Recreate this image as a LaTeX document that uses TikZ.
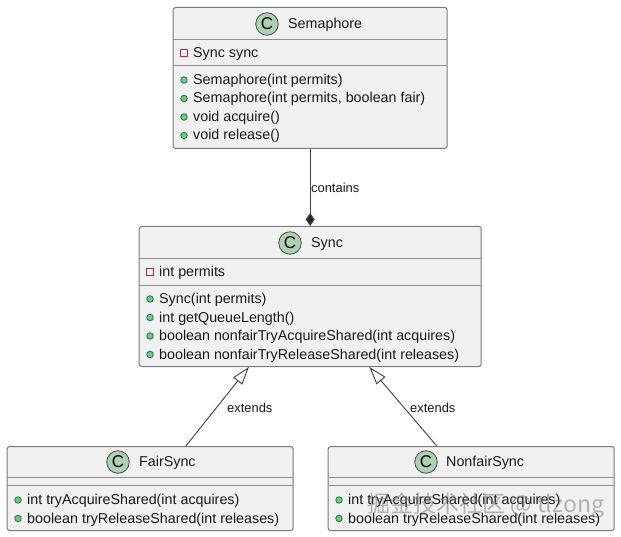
\documentclass[tikz,border=0pt]{standalone}
\usepackage{fontspec}
\setmainfont{Liberation Sans}
\newfontfamily\cjkwm{Noto Sans CJK SC}
\usetikzlibrary{arrows.meta,calc}
\definecolor{boxfill}{HTML}{F1F1F1}
\definecolor{boxline}{HTML}{7A7A7A}
\definecolor{circfill}{HTML}{ADD1B2}
\definecolor{pubfill}{HTML}{84BE84}
\definecolor{publine}{HTML}{038048}
\definecolor{privline}{HTML}{C82930}
\tikzset{
  x=1pt,y=-1pt,
  umlbox/.style={draw=boxline,fill=boxfill,line width=1pt,rounded corners=2.5pt,inner sep=0pt,anchor=north west},
  divline/.style={draw=boxline!85!white,line width=0.8pt},
  title/.style={font=\fontsize{14.3}{16}\selectfont,text=black!90,inner sep=0,anchor=west},
  member/.style={font=\fontsize{14.3}{16}\selectfont,text=black!90,inner sep=0,anchor=west},
  lbl/.style={font=\fontsize{12.9}{15}\selectfont,text=black!90,inner sep=0,anchor=west},
  cicon/.style={circle,draw=black!70,fill=circfill,line width=0.8pt,minimum size=22.5pt,inner sep=0pt,font=\fontsize{17}{17}\selectfont\rmfamily},
  pub/.style={circle,draw=publine,fill=pubfill,line width=0.8pt,minimum size=6.5pt,inner sep=0pt},
  priv/.style={rectangle,draw=privline,fill=boxfill,line width=0.8pt,minimum size=6.5pt,inner sep=0pt},
  link/.style={draw=black!75,line width=0.9pt},
  hollow/.style={link,-{Triangle[open,length=18pt,width=11.5pt,line width=0.9pt,fill=white]}},
  diam/.style={link,line width=1.2pt,-{Diamond[length=13pt,width=9pt,fill=black!85]}}
}
\begin{document}
\begin{tikzpicture}
\useasboundingbox (0,0) rectangle (621,537);
\fill[white] (0,0) rectangle (621,537);

% Semaphore
\node[umlbox,minimum width=274pt,minimum height=141pt] (sem) at (172.7,7) {};
\draw[divline] (172.7,39) -- (446.7,39);
\draw[divline] (172.7,65.5) -- (446.7,65.5);
\node[cicon] (semc) at (267,24) {C};
\node[title] (semt) at (288,25) {Semaphore};
\node[priv] (s0) at (184,53) {}; \node[member] (s0t) at (193,54) {Sync sync};
\node[pub] (s1) at (184,80) {}; \node[member] (s1t) at (193,80.5) {Semaphore(int permits)};
\node[pub] (s2) at (184,98.5) {}; \node[member] (s2t) at (193,99) {Semaphore(int permits, boolean fair)};
\node[pub] (s3) at (184,117) {}; \node[member] (s3t) at (193,117.5) {void acquire()};
\node[pub] (s4) at (184,135.5) {}; \node[member] (s4t) at (193,136) {void release()};

% Sync
\node[umlbox,minimum width=342pt,minimum height=140pt] (syn) at (138.7,226) {};
\draw[divline] (138.7,258) -- (480.7,258);
\draw[divline] (138.7,285) -- (480.7,285);
\node[cicon] (sync) at (290,243) {C};
\node[title] (synt) at (311,244) {Sync};
\node[priv] (y0) at (150,272) {}; \node[member] (y0t) at (159,273) {int permits};
\node[pub] (y1) at (150,299) {}; \node[member] (y1t) at (159,300) {Sync(int permits)};
\node[pub] (y2) at (150,317.5) {}; \node[member] (y2t) at (159,318.5) {int getQueueLength()};
\node[pub] (y3) at (150,336) {}; \node[member] (y3t) at (159,337) {boolean nonfairTryAcquireShared(int acquires)};
\node[pub] (y4) at (150,354.5) {}; \node[member] (y4t) at (159,355.5) {boolean nonfairTryReleaseShared(int releases)};

% FairSync
\node[umlbox,minimum width=286pt,minimum height=84pt] (fair) at (6.7,446) {};
\draw[divline] (6.7,477) -- (292.7,477);
\draw[divline] (6.7,485.5) -- (292.7,485.5);
\node[cicon] (fairc) at (118,462) {C};
\node[title] (fairt) at (139,463) {FairSync};
\node[pub] (f1) at (18,500) {}; \node[member] (f1t) at (27,501) {int tryAcquireShared(int acquires)};
\node[pub] (f2) at (18,518.5) {}; \node[member] (f2t) at (27,519.5) {boolean tryReleaseShared(int releases)};

% NonfairSync
\node[umlbox,minimum width=286pt,minimum height=84pt] (non) at (327.7,446) {};
\draw[divline] (327.7,477) -- (613.7,477);
\draw[divline] (327.7,485.5) -- (613.7,485.5);
\node[cicon] (nonc) at (426,462) {C};
\node[title] (nont) at (446,463) {NonfairSync};
\node[pub] (n1) at (339,500) {}; \node[member] (n1t) at (348,501) {int tryAcquireShared(int acquires)};
\node[pub] (n2) at (339,518.5) {}; \node[member] (n2t) at (348,519.5) {boolean tryReleaseShared(int releases)};

% connectors
\draw[diam] (sem.south) -- (syn.north);
\draw[hollow] (fair.50.2) -- (syn.229.9);
\draw[hollow] (non.129.8) -- (syn.310.1);
\node[lbl] (l1) at (311,188) {contains};
\node[lbl] (l2) at (227,408) {extends};
\node[lbl] (l3) at (410,408) {extends};

% watermark
\node[inner sep=0,anchor=west,text=black!55,opacity=0.5,font=\fontsize{23}{25}\selectfont\cjkwm] (wm) at (367,506) {掘金技术社区 @ tlzong};
\end{tikzpicture}
\end{document}
